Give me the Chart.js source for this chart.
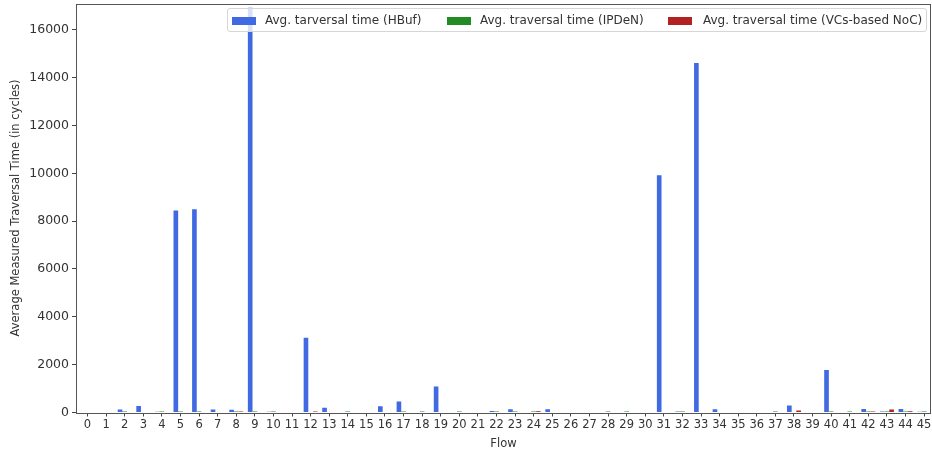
<!DOCTYPE html>
<html>
<head>
<meta charset="utf-8">
<script src="https://cdn.jsdelivr.net/npm/chart.js@4.4.1/dist/chart.umd.min.js"></script>
<style>
  html, body { margin: 0; padding: 0; background: #fff; }
  #wrap { position: relative; width: 932px; height: 455px; }
  #legend { position: absolute; left: 227px; top: 8px; width: 700px; height: 24px;
    border: 1px solid #d6d6d6; border-radius: 3px; background: rgba(255,255,255,0.8);
    font-family: "DejaVu Sans", sans-serif; font-size: 12px; color: #333; box-sizing: border-box; }
  .patch { position: absolute; top: 8px; width: 24px; height: 8px; }
  .lt { position: absolute; top: 4px; white-space: nowrap; }
</style>
</head>
<body>
<div id="wrap">
  <canvas id="c" width="932" height="455"></canvas>
  <div id="legend"></div>
</div>
<script>
const flows = [0,1,2,3,4,5,6,7,8,9,10,11,12,13,14,15,16,17,18,19,20,21,22,23,24,25,26,27,28,29,30,31,32,33,34,35,36,37,38,39,40,41,42,43,44,45];
const hbuf  = [0,0,130,270,30,8450,8500,130,120,16920,30,0,3130,200,0,0,265,460,0,1090,0,0,60,140,0,140,0,0,0,0,0,9920,40,14610,140,0,0,0,290,0,1780,0,150,40,150,30];
const ipden = [0,0,40,0,40,40,40,0,40,40,40,0,0,0,40,0,0,40,40,0,40,0,40,40,40,0,0,0,40,40,0,0,40,0,0,0,0,40,0,0,40,40,40,40,40,40];
const vcs   = [0,0,0,0,0,0,0,0,40,0,0,0,40,0,0,0,0,0,0,0,0,0,0,0,50,0,0,0,0,0,0,0,0,0,0,0,0,0,80,0,0,0,40,130,50,0];
const seriesNames = ["Avg. tarversal time (HBuf)", "Avg. traversal time (IPDeN)", "Avg. traversal time (VCs-based NoC)"];
const yTicks = [0,2000,4000,6000,8000,10000,12000,14000,16000];

const colors = ["#4169E1", "#228B22", "#B22222"];
const font = "DejaVu Sans";

const toPts = arr => arr.map((v, i) => ({x: flows[i], y: v}));

const frame = {
  id: 'frame',
  afterDraw(chart) {
    const a = chart.chartArea, ctx = chart.ctx;
    ctx.save();
    ctx.strokeStyle = '#555';
    ctx.lineWidth = 1;
    ctx.strokeRect(Math.round(a.left) + 0.5, Math.round(a.top) + 0.5,
      Math.round(a.right - a.left) - 1, Math.round(a.bottom - a.top));
    ctx.restore();
  }
};

new Chart(document.getElementById('c'), {
  type: 'bar',
  data: {
    datasets: [
      { label: seriesNames[0], data: toPts(hbuf), backgroundColor: colors[0] },
      { label: seriesNames[1], data: toPts(ipden), backgroundColor: colors[1] },
      { label: seriesNames[2], data: toPts(vcs), backgroundColor: colors[2] }
    ]
  },
  options: {
    responsive: false,
    animation: false,
    devicePixelRatio: 1,
    categoryPercentage: 0.75,
    barPercentage: 1.0,
    layout: { padding: { top: 3.5, right: 1, left: 0, bottom: 0 } },
    plugins: { legend: { display: false }, tooltip: { enabled: false } },
    scales: {
      x: {
        type: 'linear',
        offset: false,
        min: -0.62, max: 45.37,
        grid: { offset: false, drawOnChartArea: false, drawTicks: true, tickLength: 4, color: '#444' },
        border: { display: false },
        ticks: { stepSize: 1, autoSkip: false, maxRotation: 0, minRotation: 0, padding: 2,
          color: '#333', font: { family: font, size: 11.5 } },
        afterBuildTicks: s => { s.ticks = flows.map(v => ({ value: v })); },
        afterFit: s => { s.height = 42.5; s.paddingLeft = 0; s.paddingRight = 0; },
        title: { display: true, text: 'Flow', color: '#333', font: { family: font, size: 11.5 }, padding: { top: 0, bottom: 4 } }
      },
      y: {
        min: 0, max: 17100,
        grid: { drawOnChartArea: false, drawTicks: true, tickLength: 4, color: '#444' },
        border: { display: false },
        ticks: { stepSize: 2000, padding: 3, color: '#333', font: { family: font, size: 12.5 },
          callback: v => String(v) },
        afterBuildTicks: s => { s.ticks = yTicks.map(v => ({ value: v })); },
        afterFit: s => { s.width = 76; s.paddingTop = 0; s.paddingBottom = 0; },
        title: { display: true, text: 'Average Measured Traversal Time (in cycles)', color: '#333',
          font: { family: font, size: 11.5 }, padding: { top: 9, bottom: 0 } }
      }
    }
  },
  plugins: [frame]
});

// HTML legend
const lg = document.getElementById('legend');
const patchX = [4, 219, 440];
const textX = [37, 252, 475];
seriesNames.forEach((n, i) => {
  const p = document.createElement('div');
  p.className = 'patch'; p.style.left = patchX[i] + 'px'; p.style.background = colors[i];
  lg.appendChild(p);
  const t = document.createElement('div');
  t.className = 'lt'; t.style.left = textX[i] + 'px'; t.textContent = n;
  lg.appendChild(t);
});
</script>
</body>
</html>
